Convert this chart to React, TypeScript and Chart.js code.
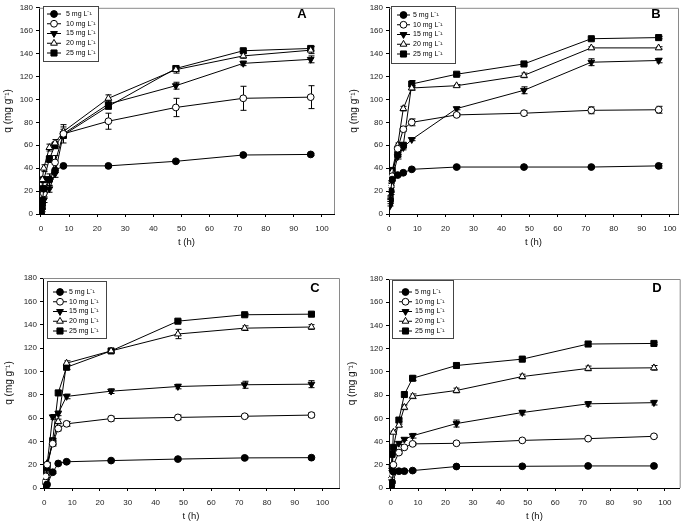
import React, { useEffect, useRef } from 'react';
import { Chart, registerables } from 'chart.js';
Chart.register(...registerables);

// ---------- data ----------
const TIME = [0, 0.25, 0.5, 1, 3, 5, 8, 24, 48, 72, 96];
const X_TICKS = [0, 10, 20, 30, 40, 50, 60, 70, 80, 90, 100];
const Y_TICKS = [0, 20, 40, 60, 80, 100, 120, 140, 160, 180];
const SERIES_LABELS = ['5 mg L⁻¹', '10 mg L⁻¹', '15 mg L⁻¹', '20 mg L⁻¹', '25 mg L⁻¹'];
const PANEL_LETTERS = ['A', 'B', 'C', 'D'];
const X_TITLE = 't (h)';
const Y_TITLE = 'q (mg g⁻¹)';

// Panel A
const A_5 = [0, 5, 10, 22, 30, 38, 42, 42, 46, 51.5, 52];
const A_10 = [0, 5, 10, 18, 30, 45, 70, 81, 93, 101, 102];
const A_15 = [0, 3, 6, 12, 22, 35, 70, 96, 112, 131.5, 135];
const A_20 = [0, 6, 30, 40, 58, 62, 72, 101, 126, 138, 143];
const A_25 = [0, 12, 22, 30, 48, 60, 69, 94, 127, 142.5, 144.5];
const A_5_ERR = [0, 1, 1, 1, 2, 2, 1, 1, 1, 1, 1];
const A_10_ERR = [0, 1, 2, 3, 5, 6, 8, 7, 8, 10.5, 10];
const A_15_ERR = [0, 1, 1, 2, 3, 3, 4, 3, 3, 2, 3];
const A_20_ERR = [0, 1, 2, 3, 3, 3, 4, 3, 3, 2, 3];
const A_25_ERR = [0, 1, 2, 2, 3, 3, 3, 2, 2, 1.5, 2];

// Panel B
const B_5 = [10, 12, 20, 30, 34, 36, 39, 41, 41, 41, 42];
const B_10 = [10, 12, 24, 33, 57, 74, 80, 86.5, 88, 90.5, 91];
const B_15 = [6, 8, 18, 30, 50, 58, 65, 92, 108, 132.5, 134];
const B_20 = [12, 15, 28, 37, 60, 92, 110, 112, 121, 145, 145];
const B_25 = [12, 14, 28, 38, 52, 60, 113.5, 122, 131, 153, 154];
const B_5_ERR = [0, 1, 1, 1, 1, 1, 1, 1, 1, 1, 2];
const B_10_ERR = [0, 1, 1, 1, 2, 2, 3, 1, 2, 3, 3];
const B_15_ERR = [0, 1, 1, 1, 2, 2, 1, 1, 3, 3, 2];
const B_20_ERR = [0, 1, 1, 1, 2, 2, 2, 1, 2, 1, 1];
const B_25_ERR = [0, 1, 1, 1, 2, 2, 3, 1, 1, 1, 1];

// Panel C
const C_5 = [0, 0.5, 1, 3, 13.5, 21, 22.5, 23.5, 24.8, 25.8, 26];
const C_10 = [0, 5, 10, 20, 38, 51, 55, 59.5, 60.5, 61.5, 62.5];
const C_15 = [0, 5, 10, 20, 61, 64, 78.5, 83, 87, 88.5, 89];
const C_20 = [0, 6, 12, 21, 39, 57, 107, 117.5, 132, 137, 138];
const C_25 = [0, 4, 8, 17, 40.5, 81.5, 103.5, 117.5, 143, 148.5, 149];
const C_5_ERR = [0, 0, 0, 0, 1, 1, 1, 1, 1, 1, 1];
const C_10_ERR = [0, 1, 1, 1, 2, 2, 2, 2, 2, 1, 2];
const C_15_ERR = [0, 1, 1, 1, 2, 2, 2, 2, 2, 3, 3];
const C_20_ERR = [0, 1, 1, 1, 2, 2, 2, 1, 4, 2, 2];
const C_25_ERR = [0, 1, 1, 1, 2, 2, 2, 1, 1, 1, 1];

// Panel D
const D_5 = [0, 2, 5, 14, 14.5, 14.5, 15, 18.5, 18.7, 19, 19];
const D_10 = [0, 8, 12, 20, 30.5, 35, 38, 38.5, 41, 42.5, 44.5];
const D_15 = [0, 16, 18, 30, 38.5, 42, 45, 55.5, 65, 72.5, 73.5];
const D_20 = [0, 8, 20, 48, 54, 69.5, 79, 84, 96, 103, 103.5];
const D_25 = [0, 18, 29, 35, 58.5, 80.5, 94.5, 105.5, 111, 124, 124.5];
const D_5_ERR = [0, 0, 1, 1, 1, 1, 1, 1, 1, 1, 1];
const D_10_ERR = [0, 1, 1, 1, 1, 1, 1, 1, 1, 1, 1];
const D_15_ERR = [0, 1, 1, 1, 1, 1, 2, 3, 2, 2, 2];
const D_20_ERR = [0, 1, 1, 1, 1, 2, 2, 2, 2, 2, 2];
const D_25_ERR = [0, 1, 1, 1, 1, 2, 2, 2, 1, 2, 1];

// ---------- styles ----------
type Marker = { style: string; fill: string; rot: number; r: number };
const MARKERS: Marker[] = [
  { style: 'circle', fill: '#000', rot: 0, r: 3.4 },
  { style: 'circle', fill: '#fff', rot: 0, r: 3.4 },
  { style: 'triangle', fill: '#000', rot: 180, r: 3.9 },
  { style: 'triangle', fill: '#fff', rot: 0, r: 3.9 },
  { style: 'rect', fill: '#000', rot: 0, r: 4.3 },
];
const FONT = "'Liberation Sans', Arial, sans-serif";

type Panel = {
  left: number; top: number; width: number; height: number;
  area: { l: number; r: number; t: number; b: number };
  xMin: number; xMax: number;
  series: number[][]; errors: number[][];
  letter: string; letterX: number; letterY: number;
  legend: { x: number; y: number; w: number; h: number; row0: number; gap: number; l0: number; l1: number; tx: number };
  yTitlePad: number; xTitlePad: number;
};

const PANELS: Panel[] = [
  {
    left: 0, top: 0, width: 345, height: 260,
    area: { l: 39, r: 334, t: 3, b: 214 }, xMin: -0.7, xMax: 104.3,
    series: [A_5, A_10, A_15, A_20, A_25], errors: [A_5_ERR, A_10_ERR, A_15_ERR, A_20_ERR, A_25_ERR],
    letter: PANEL_LETTERS[0], letterX: 302, letterY: 14,
    legend: { x: 43, y: 6, w: 55, h: 55, row0: 14, gap: 9.75, l0: 47, l1: 61, tx: 66 },
    yTitlePad: 2, xTitlePad: 11.5,
  },
  {
    left: 345, top: 0, width: 340, height: 260,
    area: { l: 44, r: 333, t: 3, b: 214 }, xMin: -0.1, xMax: 102.9,
    series: [B_5, B_10, B_15, B_20, B_25], errors: [B_5_ERR, B_10_ERR, B_15_ERR, B_20_ERR, B_25_ERR],
    letter: PANEL_LETTERS[1], letterX: 311, letterY: 14,
    legend: { x: 46, y: 6, w: 64, h: 57, row0: 15, gap: 9.75, l0: 52, l1: 65, tx: 68 },
    yTitlePad: 3, xTitlePad: 11.5,
  },
  {
    left: 0, top: 260, width: 345, height: 263,
    area: { l: 43, r: 339, t: 18, b: 228 }, xMin: -0.47, xMax: 105.9,
    series: [C_5, C_10, C_15, C_20, C_25], errors: [C_5_ERR, C_10_ERR, C_15_ERR, C_20_ERR, C_25_ERR],
    letter: PANEL_LETTERS[2], letterX: 315, letterY: 28,
    legend: { x: 47, y: 21, w: 59, h: 57, row0: 32, gap: 9.75, l0: 53, l1: 67, tx: 69 },
    yTitlePad: 3.5, xTitlePad: 1,
  },
  {
    left: 345, top: 260, width: 340, height: 263,
    area: { l: 44, r: 338, t: 19, b: 228 }, xMin: -0.6, xMax: 105.4,
    series: [D_5, D_10, D_15, D_20, D_25], errors: [D_5_ERR, D_10_ERR, D_15_ERR, D_20_ERR, D_25_ERR],
    letter: PANEL_LETTERS[3], letterX: 312, letterY: 28,
    legend: { x: 47, y: 20, w: 61, h: 58, row0: 32, gap: 9.75, l0: 54, l1: 67, tx: 70 },
    yTitlePad: 1.5, xTitlePad: 1,
  },
];

function drawMarker(ctx: CanvasRenderingContext2D, m: Marker, x: number, y: number) {
  ctx.save();
  ctx.fillStyle = m.fill;
  ctx.strokeStyle = '#000';
  ctx.lineWidth = 1;
  ctx.beginPath();
  if (m.style === 'circle') {
    ctx.arc(x, y, m.r, 0, Math.PI * 2);
  } else if (m.style === 'rect') {
    const s = m.r * Math.SQRT1_2;
    ctx.rect(x - s, y - s, 2 * s, 2 * s);
  } else {
    const r = m.r;
    const dir = m.rot === 180 ? -1 : 1;
    ctx.moveTo(x, y - dir * r);
    ctx.lineTo(x - r * 0.866, y + dir * r * 0.5);
    ctx.lineTo(x + r * 0.866, y + dir * r * 0.5);
    ctx.closePath();
  }
  ctx.fill();
  ctx.stroke();
  ctx.restore();
}

function makePlugins(p: Panel) {
  const frame = {
    id: 'frame',
    beforeDatasetsDraw(chart: any) {
      const { ctx, chartArea: a } = chart;
      ctx.save();
      ctx.strokeStyle = '#8a8a8a';
      ctx.lineWidth = 1;
      ctx.beginPath();
      ctx.moveTo(a.left, a.top + 0.5);
      ctx.lineTo(a.right + 0.5, a.top + 0.5);
      ctx.lineTo(a.right + 0.5, a.bottom);
      ctx.stroke();
      ctx.restore();
    },
  };
  const errorBars = {
    id: 'errorBars',
    beforeDatasetsDraw(chart: any) {
      const { ctx } = chart;
      const xs = chart.scales.x, ys = chart.scales.y;
      ctx.save();
      ctx.strokeStyle = '#000';
      ctx.lineWidth = 1;
      chart.data.datasets.forEach((ds: any, i: number) => {
        const e = p.errors[i];
        ds.data.forEach((pt: any, j: number) => {
          const err = e[j];
          if (!err) return;
          const px = Math.round(xs.getPixelForValue(pt.x)) + 0.5;
          const y1 = ys.getPixelForValue(pt.y + err);
          const y2 = ys.getPixelForValue(pt.y - err);
          ctx.beginPath();
          ctx.moveTo(px, y1); ctx.lineTo(px, y2);
          ctx.moveTo(px - 3, y1); ctx.lineTo(px + 3, y1);
          ctx.moveTo(px - 3, y2); ctx.lineTo(px + 3, y2);
          ctx.stroke();
        });
      });
      ctx.restore();
    },
  };
  const legendBox = {
    id: 'legendBox',
    afterDraw(chart: any) {
      const { ctx } = chart;
      const L = p.legend;
      ctx.save();
      ctx.fillStyle = '#fff';
      ctx.fillRect(L.x, L.y, L.w, L.h);
      ctx.strokeStyle = '#444';
      ctx.lineWidth = 1;
      ctx.strokeRect(L.x + 0.5, L.y + 0.5, L.w, L.h);
      SERIES_LABELS.forEach((lab, i) => {
        const y = L.row0 + i * L.gap;
        ctx.strokeStyle = '#000';
        ctx.beginPath();
        ctx.moveTo(L.l0, y); ctx.lineTo(L.l1, y);
        ctx.stroke();
        drawMarker(ctx, MARKERS[i], (L.l0 + L.l1) / 2, y);
        ctx.fillStyle = '#000';
        ctx.font = `7px ${FONT}`;
        ctx.textBaseline = 'middle';
        ctx.textAlign = 'left';
        ctx.fillText(lab, L.tx, y);
      });
      ctx.font = `bold 13px ${FONT}`;
      ctx.textAlign = 'center';
      ctx.textBaseline = 'middle';
      ctx.fillStyle = '#000';
      ctx.fillText(p.letter, p.letterX, p.letterY);
      ctx.restore();
    },
  };
  return [frame, errorBars, legendBox];
}

function PanelChart({ p }: { p: Panel }) {
  const ref = useRef<HTMLCanvasElement>(null);
  useEffect(() => {
    const canvas = ref.current!;
    const datasets = p.series.map((vals, i) => ({
      label: SERIES_LABELS[i],
      data: TIME.map((t, j) => ({ x: t, y: vals[j] })),
      showLine: true,
      borderColor: '#000',
      borderWidth: 1,
      backgroundColor: MARKERS[i].fill,
      pointBackgroundColor: MARKERS[i].fill,
      pointBorderColor: '#000',
      pointBorderWidth: 1,
      pointStyle: MARKERS[i].style,
      pointRotation: MARKERS[i].rot,
      pointRadius: MARKERS[i].r,
      tension: 0,
    }));
    const xAxisH = p.height - p.area.b;
    const chart = new Chart(canvas, {
      type: 'scatter',
      data: { datasets },
      plugins: makePlugins(p),
      options: {
        animation: false,
        responsive: false,
        devicePixelRatio: 1,
        layout: { padding: { left: 0, top: p.area.t, right: p.width - p.area.r, bottom: 0 } },
        plugins: { legend: { display: false }, tooltip: { enabled: false } },
        scales: {
          x: {
            type: 'linear', min: p.xMin, max: p.xMax,
            afterBuildTicks: (s: any) => { s.ticks = X_TICKS.map((v) => ({ value: v })); },
            afterFit: (s: any) => { s.height = xAxisH; },
            grid: { display: true, drawOnChartArea: false, drawTicks: true, tickLength: 3, color: '#000' },
            border: { display: true, color: '#000', width: 1 },
            ticks: { font: { family: FONT, size: 8 }, color: '#222', padding: 7, maxRotation: 0, autoSkip: false },
            title: { display: true, text: X_TITLE, font: { family: FONT, size: 9.5 }, color: '#111', padding: { top: 0, bottom: p.xTitlePad } },
          },
          y: {
            type: 'linear', min: 0, max: 180,
            afterBuildTicks: (s: any) => { s.ticks = Y_TICKS.map((v) => ({ value: v })); },
            afterFit: (s: any) => { s.width = p.area.l; },
            grid: { display: true, drawOnChartArea: false, drawTicks: true, tickLength: 3, color: '#000' },
            border: { display: true, color: '#000', width: 1 },
            ticks: { font: { family: FONT, size: 8 }, color: '#222', padding: 3, autoSkip: false },
            title: { display: true, text: Y_TITLE, font: { family: FONT, size: 10 }, color: '#111', padding: { top: p.yTitlePad, bottom: 0 } },
          },
        },
      } as any,
    });
    return () => chart.destroy();
  }, [p]);
  return (
    <canvas
      ref={ref}
      width={p.width}
      height={p.height}
      style={{ position: 'absolute', left: p.left, top: p.top, width: p.width, height: p.height }}
    />
  );
}

export default function App() {
  return (
    <div style={{ position: 'absolute', left: 0, top: 0, width: 685, height: 523, background: '#fff' }}>
      {PANELS.map((p, i) => (
        <PanelChart key={i} p={p} />
      ))}
    </div>
  );
}
